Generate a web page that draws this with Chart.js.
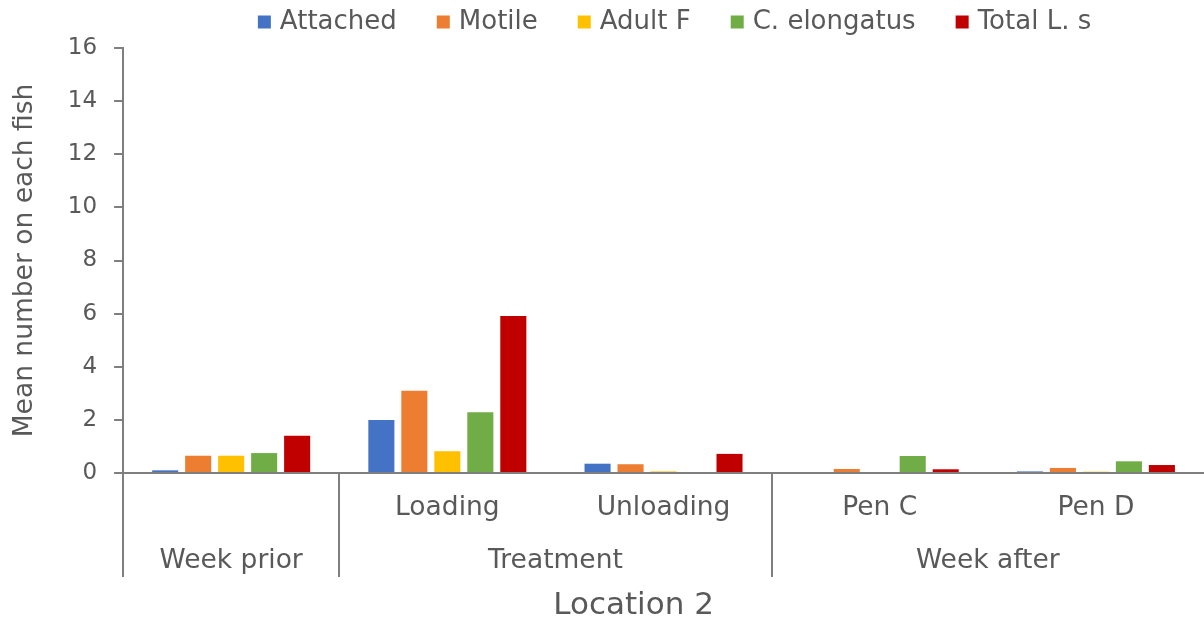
<!DOCTYPE html>
<html>
<head>
<meta charset="utf-8">
<script src="https://cdn.jsdelivr.net/npm/chart.js@4.4.1/dist/chart.umd.min.js"></script>
<style>
  html, body { margin: 0; padding: 0; background: #fff; }
  #wrap { width: 1204px; height: 622px; }
</style>
</head>
<body>
<div id="wrap"><canvas id="chart"></canvas></div>
<script>
var categories = ["", "Loading", "Unloading", "Pen C", "Pen D"];
var groups = [
    { label: "Week prior", from: 0, to: 0 },
    { label: "Treatment", from: 1, to: 2 },
    { label: "Week after", from: 3, to: 4 }
];
var seriesNames = ["Attached", "Motile", "Adult F", "C. elongatus", "Total L. s"];
var attached = [0.1, 2.0, 0.35, 0, 0.06];
var motile = [0.65, 3.1, 0.33, 0.15, 0.19];
var adultF = [0.65, 0.82, 0.06, 0, 0.05];
var elongatus = [0.75, 2.29, 0, 0.64, 0.44];
var totalLs = [1.4, 5.91, 0.72, 0.14, 0.3];
var colors = ["#4472C4", "#ED7D31", "#FFC000", "#70AD47", "#C00000"];
var xTitle = 'Location 2';

var textColor = '#595959';
var lineColor = '#7F7F7F';
var fontFamily = '"DejaVu Sans", Verdana, sans-serif';

// category labels, group labels, separator lines and axis title under the axis
var groupAxis = {
    id: 'groupAxis',
    afterDraw: function (chart) {
        var ctx = chart.ctx;
        var x = chart.scales.x;
        var area = chart.chartArea;
        var half = (x.getPixelForValue(1) - x.getPixelForValue(0)) / 2;
        ctx.save();
        ctx.fillStyle = textColor;
        ctx.font = '26.5px ' + fontFamily;
        ctx.textAlign = 'center';
        ctx.textBaseline = 'middle';
        categories.forEach(function (c, i) {
            if (c) ctx.fillText(c, x.getPixelForValue(i), area.bottom + 35);
        });
        ctx.strokeStyle = lineColor;
        ctx.lineWidth = 2;
        groups.forEach(function (g) {
            var left = x.getPixelForValue(g.from) - half;
            var right = x.getPixelForValue(g.to) + half;
            ctx.fillText(g.label, (left + right) / 2, area.bottom + 88);
            ctx.beginPath();
            ctx.moveTo(Math.round(left), area.bottom);
            ctx.lineTo(Math.round(left), area.bottom + 104);
            ctx.stroke();
        });
        ctx.font = '31px ' + fontFamily;
        ctx.fillText(xTitle, (area.left + area.right) / 2 - 30, area.bottom + 133);
        ctx.restore();
    }
};

// legend drawn by hand so the item gaps can be wide but the strip stays short
var topLegend = {
    id: 'topLegend',
    afterDraw: function (chart) {
        var ctx = chart.ctx;
        var area = chart.chartArea;
        var box = 13, gapText = 9, gapItem = 40;
        ctx.save();
        ctx.font = '26px ' + fontFamily;
        var widths = seriesNames.map(function (n) { return ctx.measureText(n).width; });
        var total = 0;
        widths.forEach(function (w) { total += box + gapText + w; });
        total += gapItem * (seriesNames.length - 1);
        var xPos = (area.left + area.right) / 2 + 11 - total / 2;
        var yMid = 22;
        ctx.textBaseline = 'middle';
        ctx.textAlign = 'left';
        seriesNames.forEach(function (n, i) {
            ctx.fillStyle = colors[i];
            ctx.fillRect(xPos, yMid - box / 2, box, box);
            ctx.fillStyle = textColor;
            ctx.fillText(n, xPos + box + gapText, yMid);
            xPos += box + gapText + widths[i] + gapItem;
        });
        ctx.restore();
    }
};

var datasets = [attached, motile, adultF, elongatus, totalLs].map(function (d, i) {
    return {
        label: seriesNames[i],
        data: d,
        backgroundColor: colors[i],
        categoryPercentage: 0.763,
        barPercentage: 0.79
    };
});

new Chart(document.getElementById('chart'), {
    type: 'bar',
    data: { labels: categories, datasets: datasets },
    plugins: [groupAxis, topLegend],
    options: {
        responsive: true,
        maintainAspectRatio: false,
        animation: false,
        layout: { padding: { left: 0, right: 0, top: 48, bottom: 141 } },
        plugins: {
            legend: { display: false },
            tooltip: { enabled: false }
        },
        scales: {
            x: {
                grid: { display: false },
                border: { color: lineColor, width: 2 },
                ticks: { display: false }
            },
            y: {
                min: 0,
                max: 16,
                ticks: {
                    stepSize: 2,
                    color: textColor,
                    font: { family: fontFamily, size: 23 },
                    padding: 17
                },
                grid: {
                    drawOnChartArea: false,
                    drawTicks: true,
                    tickLength: 9,
                    color: lineColor,
                    lineWidth: 2
                },
                border: { color: lineColor, width: 2 },
                title: {
                    display: true,
                    text: 'Mean number on each fish',
                    color: textColor,
                    font: { family: fontFamily, size: 26.5 },
                    padding: { top: 9, bottom: 10 }
                }
            }
        }
    }
});
</script>
</body>
</html>
